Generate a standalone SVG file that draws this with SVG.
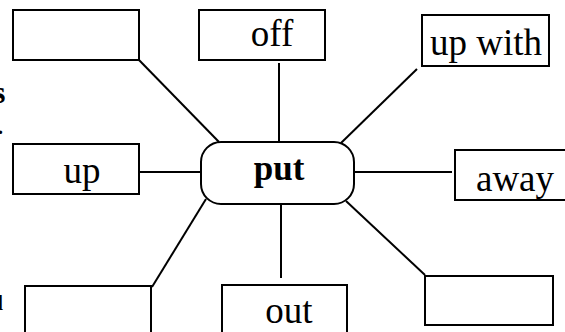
<svg xmlns="http://www.w3.org/2000/svg" width="565" height="332" viewBox="0 0 565 332">
<style>
.box{fill:#fff;stroke:#000;stroke-width:2}
.lbl{font-family:"Liberation Serif","Times New Roman",serif;font-size:37px;fill:#000;text-anchor:middle}
.hub{font-family:"Liberation Serif","Times New Roman",serif;font-size:35px;font-weight:bold;fill:#000;text-anchor:middle}
.frag{font-family:"Liberation Serif","Times New Roman",serif;font-weight:bold;fill:#000;text-anchor:end}
#connectors line{stroke:#000;stroke-width:2}
</style>
<rect width="565" height="332" fill="#fff"/>
<g id="fragments">
<text class="frag" x="5.5" y="103" font-size="32">s</text>
<text class="frag" x="3" y="134" font-size="20">.</text>
<text class="frag" x="3" y="310" font-size="22" font-weight="normal">l</text>
</g>
<g id="connectors">
<line x1="139" y1="60" x2="219" y2="142"/>
<line x1="279" y1="63" x2="279" y2="142"/>
<line x1="417" y1="69" x2="341" y2="143"/>
<line x1="139" y1="172" x2="201" y2="172"/>
<line x1="354" y1="172" x2="452" y2="172"/>
<line x1="206" y1="199" x2="152" y2="287"/>
<line x1="281" y1="204" x2="281" y2="278"/>
<line x1="346" y1="201" x2="425" y2="275"/>
</g>
<g id="node-top-left"><rect class="box" x="13" y="10" width="126" height="50"/></g>
<g id="node-off"><rect class="box" x="199" y="10" width="126" height="50"/><text class="lbl" x="272" y="46">off</text></g>
<g id="node-upwith"><rect class="box" x="422" y="15" width="127" height="51"/><text class="lbl" x="486" y="55">up with</text></g>
<g id="node-up"><rect class="box" x="13" y="144" width="126" height="50"/><text class="lbl" x="82" y="183">up</text></g>
<g id="node-put"><rect class="box" x="201" y="142" width="153" height="62" rx="20" ry="20"/><text class="hub" x="279" y="180">put</text></g>
<g id="node-away"><rect class="box" x="455" y="150" width="115" height="50"/><text class="lbl" x="515" y="191">away</text></g>
<g id="node-bottom-left"><rect class="box" x="25" y="286" width="126" height="60"/></g>
<g id="node-out"><rect class="box" x="222" y="285" width="125" height="60"/><text class="lbl" x="289" y="323">out</text></g>
<g id="node-bottom-right"><rect class="box" x="425" y="276" width="128" height="49"/></g>
</svg>
